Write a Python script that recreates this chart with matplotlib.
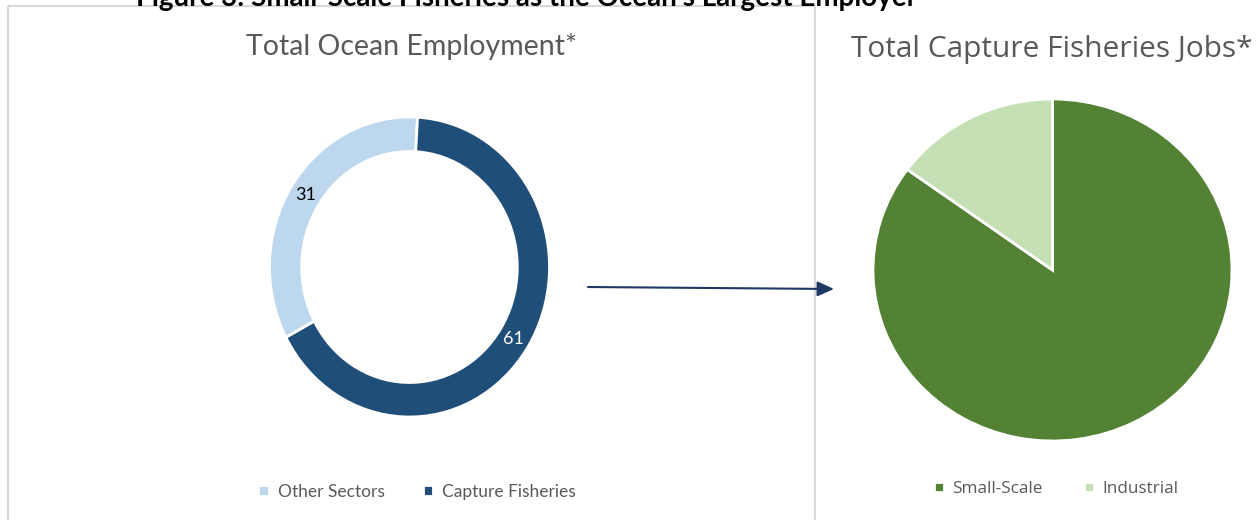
import matplotlib
matplotlib.use("Agg")
import matplotlib.pyplot as plt
from matplotlib.patches import Rectangle

# Dati
ocean_labels = ["Other Sectors", "Capture Fisheries"]
ocean_values = [31, 61]
ocean_colors = ["#bdd7ee", "#1f4e79"]

capture_labels = ["Small-Scale", "Industrial"]
capture_values = [85, 15]
capture_colors = ["#548235", "#c5e0b4"]

W, H = 1256, 520
fig = plt.figure(figsize=(W / 100, H / 100), dpi=100)
fig.patch.set_facecolor("white")

# asse di sfondo in pixel (cornice, freccia, titoli)
bg = fig.add_axes([0, 0, 1, 1])
bg.set_xlim(0, W)
bg.set_ylim(H, 0)
bg.axis("off")


def place(cx, cy, rx, ry, pad=1.02):
    # asse centrato in (cx, cy) pixel, raggio rx/ry
    ax = fig.add_axes([(cx - rx * pad) / W, (H - cy - ry * pad) / H,
                       2 * rx * pad / W, 2 * ry * pad / H])
    return ax


def fix(ax, pad=1.02):
    ax.set_xlim(-pad, pad)
    ax.set_ylim(-pad, pad)
    ax.set_aspect("auto")
    ax.axis("off")


gray = "#595959"

# cornice pannello sinistro
bg.add_patch(Rectangle((8, 6), 807, 540, fill=False, edgecolor="#d9d9d9", linewidth=1.5))

# titolo generale (tagliato in alto)
bg.text(527, 6, "Figure 3: Small-Scale Fisheries as the Ocean's Largest Employer",
        ha="center", va="baseline", fontsize=20, fontweight="bold", family="Lato",
        color="black")

# 1. Ciambella occupazione oceanica
ax1 = place(409.5, 267, 140, 150)
total = sum(ocean_values)
w1, _, auto1 = ax1.pie(ocean_values, colors=ocean_colors, startangle=90 - 242,
                       counterclock=False, radius=1,
                       wedgeprops=dict(width=0.23, edgecolor="white", linewidth=2),
                       autopct=lambda p: f"{p * total / 100:.0f}", pctdistance=0.885,
                       textprops=dict(fontsize=13, family="Lato"))
auto1[0].set_color("black")
auto1[1].set_color("white")
fix(ax1)
bg.text(411, 47, "Total Ocean Employment*", ha="center", va="center",
        fontsize=20.5, family="Lato", color=gray)
ax1.legend(w1, ocean_labels, ncol=2, loc="center", bbox_to_anchor=(417 / W, 1 - 492 / H),
           bbox_transform=fig.transFigure, frameon=False, handlelength=0.6,
           handleheight=0.6, handletextpad=0.5, columnspacing=2.2,
           prop=dict(family="Lato", size=12.5), labelcolor=gray)

# 2. Freccia
bg.annotate("", xy=(834, 289), xytext=(588, 287),
            arrowprops=dict(arrowstyle="-|>,head_length=1.0,head_width=0.45",
                            color="#1f3864", linewidth=1.5, shrinkA=0, shrinkB=0))

# 3. Torta pesca di cattura
ax2 = place(1052.5, 270, 179.5, 171)
w2, _ = ax2.pie(capture_values, colors=capture_colors, startangle=90,
                counterclock=False, radius=1,
                wedgeprops=dict(edgecolor="white", linewidth=2))
fix(ax2)
bg.text(1052, 49, "Total Capture Fisheries Jobs*", ha="center", va="center",
        fontsize=21.5, family="Open Sans", color=gray)
ax2.legend(w2, capture_labels, ncol=2, loc="center", bbox_to_anchor=(1056 / W, 1 - 489 / H),
           bbox_transform=fig.transFigure, frameon=False, handlelength=0.6,
           handleheight=0.6, handletextpad=0.5, columnspacing=2.4,
           prop=dict(family="Open Sans", size=12.3), labelcolor=gray)

fig.savefig("out.png", dpi=100)
